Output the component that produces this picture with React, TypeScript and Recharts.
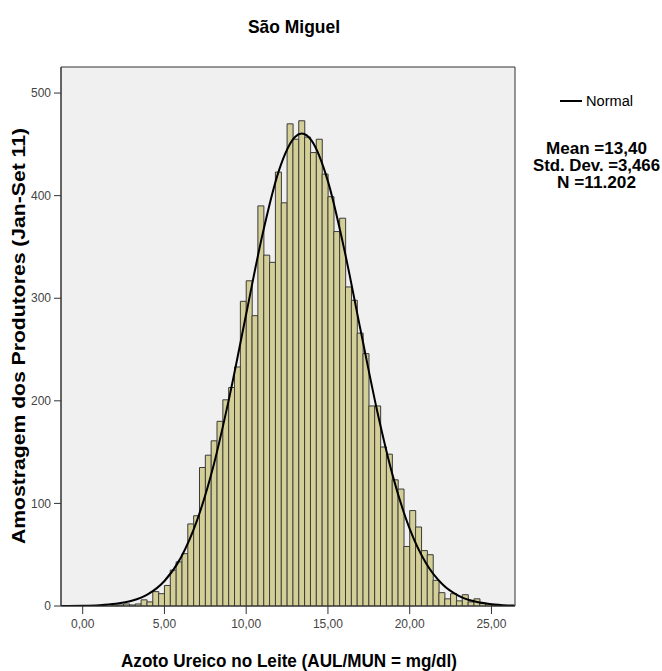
import React from 'react';
import { ComposedChart, Bar, Line, XAxis, YAxis, CartesianGrid, ReferenceArea } from 'recharts';

// Histogram counts per bin (bin width = 5/14 units, bin 0 starts at 0,00)
const binCounts = [
  0, 0, 0, 0, 0, 1, 1, 2, 1, 2,
  6, 4, 14, 12,
  20, 35, 43, 51, 80, 88,
  135, 147, 161, 180, 201, 213, 233, 297, 317, 283,
  390, 342, 335, 423, 393, 470, 455, 473, 457, 442,
  455, 421, 399, 365, 378, 311, 298, 266, 246, 195,
  195, 155, 148, 123, 114, 58, 93, 77, 54, 50,
  25, 13, 7, 12, 5, 11, 4, 7, 3, 2, 1,
];

// Fitted normal curve
const curveX = [-1.3, 0, 1, 2, 3, 4, 5, 6, 7, 8, 9, 10, 11, 12, 13, 13.4, 14, 15, 16, 17, 18, 19, 20, 21, 22, 23, 24, 25, 26, 26.4];
const curveY = [0.1, 0.3, 0.8, 2.1, 5.1, 11.6, 24.4, 47.1, 83.7, 136.8, 205.8, 284.6, 362.4, 424.4, 457.4, 460.5, 453.6, 413.9, 347.5, 268.5, 190.9, 124.9, 75.1, 41.6, 21.2, 9.9, 4.3, 1.7, 0.6, 0.4];

const xTicks = [0, 5, 10, 15, 20, 25];
const yTicks = [0, 100, 200, 300, 400, 500];

const titleText = 'São Miguel';
const xLabelText = 'Azoto Ureico no Leite (AUL/MUN = mg/dl)';
const yLabelText = 'Amostragem dos Produtores (Jan-Set 11)';
const legendName = 'Normal';
const statLines = ['Mean =13,40', 'Std. Dev. =3,466', 'N =11.202'];

const barData = binCounts.map((c, i) => ({ bin: i, count: c }));
const curveData = curveX.map((x, i) => ({ x, y: curveY[i] }));

const FONT = "'Liberation Sans', Arial, Helvetica, sans-serif";
const X_MIN = -1.327;
const X_MAX = 26.44;
const Y_MAX = 525.4;

const fmt = (v: number) => v.toFixed(2).replace('.', ',');

export default function App() {
  return (
    <div style={{ position: 'absolute', left: 0, top: 0, width: 662, height: 671, background: '#ffffff' }}>
      <ComposedChart
        width={662}
        height={671}
        data={barData}
        margin={{ top: 67, right: 147, bottom: 0, left: 0 }}
        barCategoryGap={0}
        barGap={0}
      >
        <CartesianGrid xAxisId="num" yAxisId="y" fill="#F0F0F0" horizontal={false} vertical={false} />
        <XAxis
          xAxisId="bins"
          dataKey="bin"
          type="category"
          hide
          orientation="top"
          height={0}
          padding={{ left: 21.7, right: 17.7 }}
        />
        <XAxis
          xAxisId="num"
          dataKey="x"
          type="number"
          domain={[X_MIN, X_MAX]}
          allowDataOverflow
          ticks={xTicks}
          height={65}
          tickSize={8}
          tickMargin={5}
          tickFormatter={fmt}
          tick={{ fill: '#444', fontSize: 12, fontFamily: FONT }}
          axisLine={{ stroke: '#333' }}
          tickLine={{ stroke: '#333' }}
        />
        <YAxis
          yAxisId="y"
          type="number"
          domain={[0, Y_MAX]}
          allowDataOverflow
          ticks={yTicks}
          width={61}
          tickSize={7}
          tickMargin={3}
          tick={{ fill: '#444', fontSize: 12, fontFamily: FONT }}
          axisLine={{ stroke: '#333' }}
          tickLine={{ stroke: '#333' }}
        />
        <Bar
          xAxisId="bins"
          yAxisId="y"
          dataKey="count"
          fill="#D4CF97"
          stroke="#3A3A3A"
          strokeWidth={1}
          isAnimationActive={false}
        />
        <Line
          xAxisId="num"
          yAxisId="y"
          data={curveData}
          dataKey="y"
          type="monotone"
          stroke="#000"
          strokeWidth={2}
          dot={false}
          isAnimationActive={false}
        />
        <ReferenceArea
          xAxisId="num"
          yAxisId="y"
          x1={X_MIN}
          x2={X_MAX}
          y1={0}
          y2={Y_MAX}
          fill="none"
          fillOpacity={0}
          stroke="#333"
          strokeWidth={1}
        />
      </ComposedChart>
      <svg
        width={662}
        height={671}
        style={{ position: 'absolute', left: 0, top: 0, pointerEvents: 'none' }}
      >
        <text x={294} y={33} textAnchor="middle" fontFamily={FONT} fontWeight="bold" fontSize={19} fill="#000"
          textLength={92} lengthAdjust="spacingAndGlyphs">{titleText}</text>
        <text x={289} y={667} textAnchor="middle" fontFamily={FONT} fontWeight="bold" fontSize={19} fill="#000"
          textLength={336} lengthAdjust="spacingAndGlyphs">{xLabelText}</text>
        <text transform="translate(25,336) rotate(-90)" textAnchor="middle" fontFamily={FONT} fontWeight="bold" fontSize={18} fill="#000"
          textLength={416} lengthAdjust="spacingAndGlyphs">{yLabelText}</text>
        <line x1={560} y1={101} x2={582} y2={101} stroke="#000" strokeWidth={2} />
        <text x={586} y={106} fontFamily={FONT} fontSize={14} fill="#000" textLength={47} lengthAdjust="spacingAndGlyphs">{legendName}</text>
        <text x={596.5} y={154} textAnchor="middle" fontFamily={FONT} fontWeight="bold" fontSize={16} fill="#000"
          textLength={101} lengthAdjust="spacingAndGlyphs">{statLines[0]}</text>
        <text x={596.5} y={171} textAnchor="middle" fontFamily={FONT} fontWeight="bold" fontSize={16} fill="#000"
          textLength={127} lengthAdjust="spacingAndGlyphs">{statLines[1]}</text>
        <text x={596.5} y={188} textAnchor="middle" fontFamily={FONT} fontWeight="bold" fontSize={16} fill="#000"
          textLength={79} lengthAdjust="spacingAndGlyphs">{statLines[2]}</text>
      </svg>
    </div>
  );
}
